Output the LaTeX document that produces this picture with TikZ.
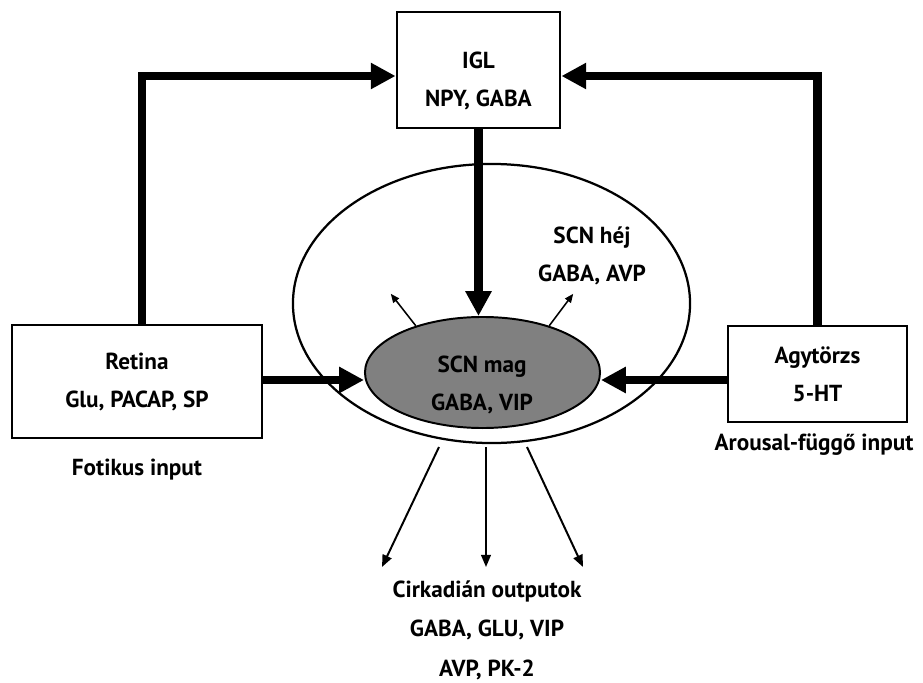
\documentclass[tikz,border=0pt]{standalone}
\usepackage{fontspec}
\setmainfont{PT Sans}
\usetikzlibrary{shapes.geometric}
\usetikzlibrary{arrows.meta,positioning}

\begin{document}
\begin{tikzpicture}[x=0.025cm, y=-0.025cm,
                box/.style = {draw, line width=2pt, inner sep=0pt},
                txt/.style = {align=center, font=\bfseries\fontsize{16.5}{27}\selectfont},
                fat/.style = {line width=6pt, -{Triangle[length=0.62cm,width=0.62cm]}},
                slim/.style = {line width=1.1pt, -{Triangle[length=0.22cm,width=0.18cm]}},
                outarrow/.style = {line width=1.4pt, -{Triangle[length=0.3cm,width=0.24cm]}}]
    \useasboundingbox (0,0) rectangle (923,683);
    % boxes
    \node[box, minimum width=4.075cm, minimum height=2.9cm] (igl) at (478.5,70) {};
    \node[txt] (igltxt) at (478.5,81) {IGL\\NPY, GABA};
    \node[box, txt, minimum width=6.25cm, minimum height=2.825cm] (ret) at (137,381.5) {Retina\\Glu, PACAP, SP};
    \node[box, txt, minimum width=4.475cm, minimum height=2.4cm] (agy) at (817.5,374) {Agytörzs\\5-HT};
    \node[txt] (fot) at (137,470) {Fotikus input};
    \node[txt] (arou) at (814,445) {Arousal-függő input};
    % SCN
    \node[draw, ellipse, line width=1.6pt, inner sep=0pt,
          minimum width=9.925cm, minimum height=6.975cm] (hej) at (491.5,303.5) {};
    \node[draw, ellipse, fill=gray, line width=1.4pt, inner sep=0pt,
          minimum width=5.875cm, minimum height=2.775cm] (mag) at (482.5,372.5) {};
    \node[txt] (magtxt) at (482,385) {SCN mag\\GABA, VIP};
    \node[txt] (hejtxt) at (592,256) {SCN héj\\GABA, AVP};
    \node[txt, font=\bfseries\fontsize{16.5}{28}\selectfont] (outtxt) at (487,630) {Cirkadián outputok\\GABA, GLU, VIP\\AVP, PK-2};
    % inputs
    \coordinate (lvl) at (0,380);
    \draw[fat] ([xshift=0.125cm]ret.north) |- ([yshift=-0.15cm]igl.west);
    \draw[fat] (agy.north) |- ([yshift=-0.15cm]igl.east);
    \draw[fat] (igl.south) -- (igl.south |- mag.north);
    \draw[fat] (ret.east |- lvl) -- (mag.west |- lvl);
    \draw[fat] (agy.west |- lvl) -- (mag.east |- lvl);
    % outputs
    \draw[slim] (mag.145) -- ++(-25,-32);
    \draw[slim] (mag.35) -- ++(24,-32);
    \foreach \s/\e [count=\i] in {439/382, 486/486, 527/583} {
        \coordinate (o\i s) at (\s,447);
        \coordinate (o\i e) at (\e,567);
        \draw[outarrow] (o\i s) -- (o\i e);
    }
\end{tikzpicture}
\end{document}
